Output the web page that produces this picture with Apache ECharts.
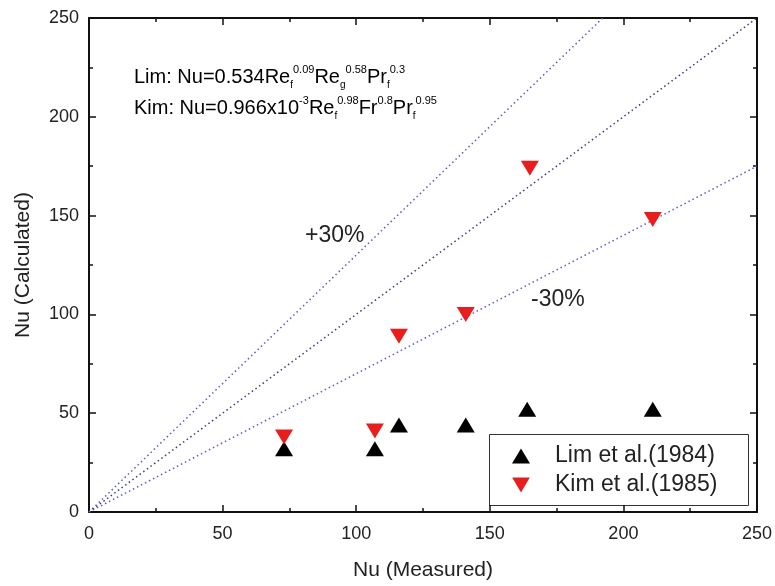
<!DOCTYPE html>
<html>
<head>
<meta charset="utf-8">
<script src="https://cdn.jsdelivr.net/npm/echarts@6/dist/echarts.min.js"></script>
<style>
  html, body { margin: 0; padding: 0; background: #fff; }
  #chart { width: 775px; height: 586px; }
</style>
</head>
<body>
<div id="chart"></div>
<script>
// Measured vs calculated Nusselt numbers
const limMeasured = [73, 107, 116, 141, 164, 211];
const limCalculated = [32, 32, 44, 44, 52, 52];
const kimMeasured = [73, 107, 116, 141, 165, 211];
const kimCalculated = [38, 41, 89, 100, 174, 148];

// Reference lines: +30 %, 1:1 and -30 % (end points)
const linePlus30 = [[0, 0], [192.3, 250]];
const lineEqual = [[0, 0], [250, 250]];
const lineMinus30 = [[0, 0], [250, 175]];

const axisTicks = [0, 50, 100, 150, 200, 250];
const seriesNames = ['Lim et al.(1984)', 'Kim et al.(1985)'];

const FONT = 'Liberation Sans, Arial, sans-serif';
const DOWN_TRIANGLE = 'path://M0,0 L20,0 L10,17 Z';

const pairs = (xs, ys) => xs.map((x, i) => [x, ys[i]]);

const chart = echarts.init(document.getElementById('chart'));

const baseAxis = {
  min: axisTicks[0],
  max: axisTicks[axisTicks.length - 1],
  interval: axisTicks[1] - axisTicks[0],
  axisLine: { show: true, onZero: false, lineStyle: { color: '#111', width: 2 } },
  axisTick: { show: true, inside: true, length: 7, lineStyle: { color: '#111', width: 1.5 } },
  minorTick: { show: true, splitNumber: 2, length: 4, lineStyle: { color: '#111', width: 1.5 } },
  splitLine: { show: false },
  axisLabel: { color: '#222', fontSize: 18, fontFamily: FONT }
};

const refLine = (data, color) => ({
  type: 'line',
  data: data,
  symbol: 'none',
  silent: true,
  lineStyle: { color: color, width: 1.5, type: [1.5, 3] },
  z: 1
});

const rich = {
  n: { fontSize: 20, fontFamily: FONT, color: '#222', lineHeight: 26, verticalAlign: 'middle' },
  sp: { fontSize: 11, fontFamily: FONT, color: '#222', lineHeight: 26, verticalAlign: 'top', padding: [0, 0, 12, 0] },
  sb: { fontSize: 10, fontFamily: FONT, color: '#222', lineHeight: 26, verticalAlign: 'bottom', padding: [10, 0, 0, 0] }
};

chart.setOption({
  animation: false,
  backgroundColor: '#fff',
  grid: { left: 89, right: 15, top: 18, bottom: 73 },
  xAxis: [
    Object.assign({}, baseAxis, {
      type: 'value', position: 'bottom',
      name: 'Nu (Measured)', nameLocation: 'middle', nameGap: 48,
      nameTextStyle: { fontSize: 21, color: '#222', fontFamily: FONT },
      axisLabel: Object.assign({}, baseAxis.axisLabel, { margin: 13 })
    }),
    Object.assign({}, baseAxis, {
      type: 'value', position: 'top', axisLabel: { show: false }
    })
  ],
  yAxis: [
    Object.assign({}, baseAxis, {
      type: 'value', position: 'left',
      name: 'Nu (Calculated)', nameLocation: 'middle', nameGap: 55,
      nameTextStyle: { fontSize: 21, color: '#222', fontFamily: FONT },
      axisLabel: Object.assign({}, baseAxis.axisLabel, { margin: 10 })
    }),
    Object.assign({}, baseAxis, {
      type: 'value', position: 'right', axisLabel: { show: false }
    })
  ],
  legend: {
    orient: 'vertical',
    left: 512, top: 443,
    padding: 0,
    itemGap: 3,
    itemWidth: 18, itemHeight: 15,
    z: 20,
    textStyle: { fontSize: 23, lineHeight: 26, color: '#222', fontFamily: FONT, padding: [0, 0, 0, 20] },
    data: [
      { name: seriesNames[0], icon: 'triangle' },
      { name: seriesNames[1], icon: DOWN_TRIANGLE }
    ]
  },
  series: [
    refLine(linePlus30, '#5c5cc4'),
    refLine(lineEqual, '#3c3c78'),
    refLine(lineMinus30, '#5c5cc4'),
    {
      name: seriesNames[0],
      type: 'scatter',
      data: pairs(limMeasured, limCalculated),
      symbol: 'triangle',
      symbolSize: [18, 15],
      itemStyle: { color: '#000', opacity: 1 },
      z: 3
    },
    {
      name: seriesNames[1],
      type: 'scatter',
      data: pairs(kimMeasured, kimCalculated),
      symbol: DOWN_TRIANGLE,
      symbolSize: [18, 15],
      itemStyle: { color: '#e81e1e', opacity: 1 },
      z: 4
    }
  ],
  graphic: [
    {
      type: 'rect', left: 489, top: 434, z: 0,
      shape: { width: 259, height: 71 },
      style: { fill: '#fff', stroke: '#333', lineWidth: 1 }
    },
    {
      type: 'text', left: 134, top: 64, z: 10,
      style: {
        text: '{n|Lim: Nu=0.534Re}{sb|f}{sp|0.09}{n|Re}{sb|g}{sp|0.58}{n|Pr}{sb|f}{sp|0.3}',
        rich: rich
      }
    },
    {
      type: 'text', left: 134, top: 95, z: 10,
      style: {
        text: '{n|Kim: Nu=0.966x10}{sp|-3}{n|Re}{sb|f}{sp|0.98}{n|Fr}{sp|0.8}{n|Pr}{sb|f}{sp|0.95}',
        rich: rich
      }
    },
    {
      type: 'text', left: 305, top: 224, z: 10,
      style: { text: '+30%', fontSize: 23, fontFamily: FONT, fill: '#222' }
    },
    {
      type: 'text', left: 531, top: 288, z: 10,
      style: { text: '-30%', fontSize: 23, fontFamily: FONT, fill: '#222' }
    }
  ]
});
</script>
</body>
</html>
